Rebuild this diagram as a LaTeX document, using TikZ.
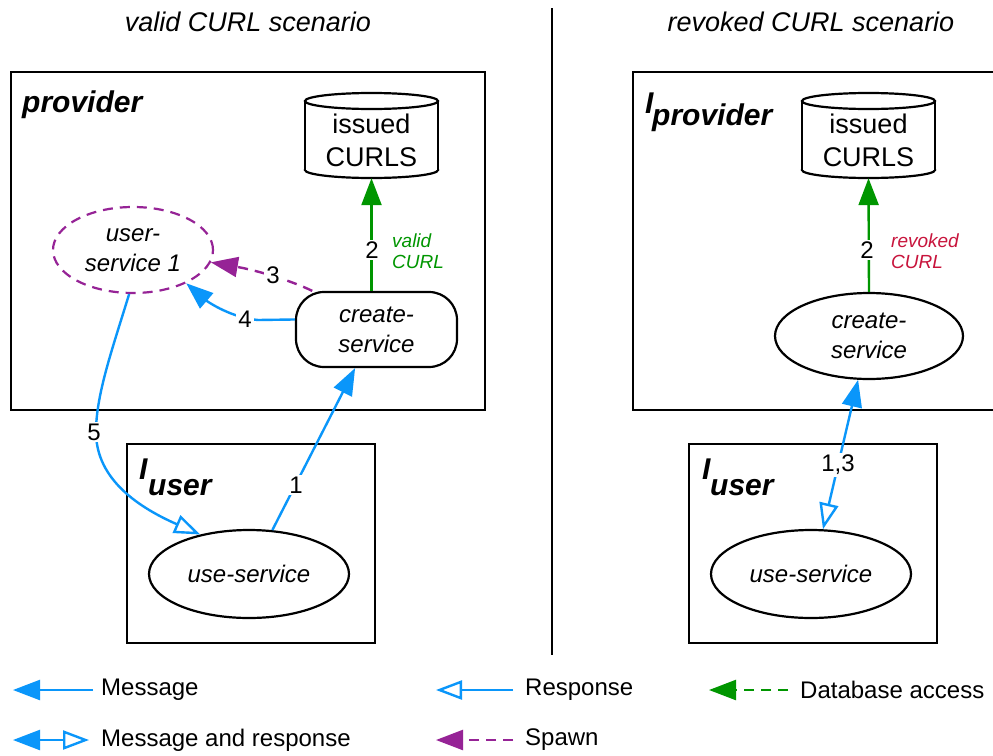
\documentclass[tikz,border=0pt]{standalone}
\usepackage{fontspec}
\setmainfont{Liberation Sans}
\usetikzlibrary{arrows.meta,shapes.geometric,calc}
\definecolor{cblue}{RGB}{10,150,250}
\definecolor{cgreen}{RGB}{0,150,0}
\definecolor{cpurple}{RGB}{150,35,150}
\definecolor{ccrimson}{RGB}{200,20,60}
\tikzset{
  boxnode/.style={draw, line width=2.6pt, inner sep=0pt},
  titletext/.style={font=\fontsize{27}{32}\selectfont\itshape},
  grp/.style={font=\fontsize{30}{36}\selectfont\bfseries\itshape, inner sep=0pt},
  proc/.style={draw, line width=2.2pt, inner sep=0pt, align=center, font=\fontsize{24}{30}\selectfont\itshape},
  dbtext/.style={align=center, inner sep=0pt, font=\fontsize{27}{33}\selectfont},
  num/.style={fill=white, inner sep=2pt, font=\fontsize{24}{28}\selectfont},
  note/.style={align=left, inner sep=0pt, anchor=west, font=\fontsize{19}{21}\selectfont\itshape},
  leg/.style={anchor=west, inner sep=0pt, font=\fontsize{24}{28}\selectfont},
  fhead/.tip={Triangle[length=27pt,width=20pt]},
  ohead/.tip={Triangle[open,length=26pt,width=19pt]},
  msg/.style={draw=cblue, line width=2.4pt, -fhead},
  resp/.style={draw=cblue, line width=2.4pt, -ohead},
  both/.style={draw=cblue, line width=2.4pt, fhead-ohead},
  dbacc/.style={draw=cgreen, line width=2.4pt, -fhead},
  dbdash/.style={dbacc, dash pattern=on 10pt off 7pt},
  spawn/.style={draw=cpurple, line width=2.4pt, dash pattern=on 10pt off 7pt, -fhead},
}
\begin{document}
\begin{tikzpicture}[x=1pt,y=-1pt]
\useasboundingbox[fill=white] (0,0) rectangle (993,755);

% titles and divider
\node[titletext] (t1) at (248,22) {valid CURL scenario};
\node[titletext] (t2) at (811,22) {revoked CURL scenario};
\draw[line width=1.6pt] (552,8) -- (552,655);

% ---------------- left scenario ----------------
\node[boxnode, minimum width=474pt, minimum height=338pt] (prov1) at (248,241) {};
\node[grp, anchor=base west] (provl1) at (22,112) {provider};

% cylinder 1
\draw[line width=2.2pt, fill=white] (371.5,170) ellipse [x radius=66.5pt, y radius=8pt];
\fill[white] (305,101) rectangle (438,170);
\draw[line width=2.2pt] (305,101) -- (305,170) (438,101) -- (438,170);
\draw[line width=2.2pt, fill=white] (371.5,101) ellipse [x radius=66.5pt, y radius=8pt];
\node[minimum width=133pt, minimum height=85pt, inner sep=0pt] (db1) at (371.5,135.5) {};
\node[dbtext] (db1t) at (371.5,140) {issued\\CURLS};

\node[proc, ellipse, dashed, draw=cpurple, dash pattern=on 10pt off 7pt, minimum width=160pt, minimum height=86pt] (us1) at (133,250) {user-\\service 1};
\node[proc, rounded corners=28pt, minimum width=161pt, minimum height=75pt] (cs1) at (376.5,329.5) {create-\\service};

\node[boxnode, minimum width=248pt, minimum height=199pt] (ubox1) at (251,543.5) {};
\node[grp, anchor=base west] (iu1) at (139,479) {I};
\node[grp, anchor=base west] (uu1) at (148,495) {user};
\node[proc, ellipse, minimum width=200pt, minimum height=88pt] (use1) at (249,574) {use-service};

% connectors left
\draw[dbacc] (cs1.north -| db1.south) -- (db1.south);
\draw[spawn] (cs1.149) .. controls (290,280) and (255,270) .. (us1.-9);
\draw[msg] (cs1.173) -- (258,320) .. controls (232,318) and (208,302) .. (us1.-32);
\draw[msg] (use1.62) -- (cs1.-119);
\draw[resp] (us1.-95) .. controls (112,350) and (96,395) .. (96,432) .. controls (96,480) and (140,508) .. (use1.141);

\node[num] (n2a) at (372,250) {2};
\node[note, text=cgreen] (v1) at (392,251) {valid\\CURL};
\node[num] (n3) at (273,275) {3};
\node[num] (n4) at (245,319) {4};
\node[num] (n1) at (296,485) {1};
\node[num] (n5) at (94,432) {5};

% ---------------- right scenario ----------------
\draw[line width=2.6pt] (998,72) -- (633,72) -- (633,410) -- (998,410);
\node[grp, anchor=base west] (ip2) at (645,113) {I};
\node[grp, anchor=base west] (pp2) at (652,125) {provider};

% cylinder 2
\draw[line width=2.2pt, fill=white] (868.5,170) ellipse [x radius=66.5pt, y radius=8pt];
\fill[white] (802,101) rectangle (935,170);
\draw[line width=2.2pt] (802,101) -- (802,170) (935,101) -- (935,170);
\draw[line width=2.2pt, fill=white] (868.5,101) ellipse [x radius=66.5pt, y radius=8pt];
\node[minimum width=133pt, minimum height=85pt, inner sep=0pt] (db2) at (868.5,135.5) {};
\node[dbtext] (db2t) at (868.5,140) {issued\\CURLS};

\node[proc, ellipse, minimum width=188pt, minimum height=86pt] (cs2) at (869,336) {create-\\service};

\node[boxnode, minimum width=248pt, minimum height=199pt] (ubox2) at (813,543.5) {};
\node[grp, anchor=base west] (iu2) at (702,479) {I};
\node[grp, anchor=base west] (uu2) at (710,495) {user};
\node[proc, ellipse, minimum width=200pt, minimum height=88pt] (use2) at (811,574) {use-service};

\draw[dbacc] (cs2.north) -- (db2.south);
\draw[both] (cs2.-104) -- (use2.75);
\node[num] (n2b) at (867,250) {2};
\node[note, text=ccrimson] (r2) at (891,251) {revoked\\CURL};
\node[num] (n13) at (838,465) {1,3};

% ---------------- legend ----------------
\node[leg] (lmsg) at (101,690) {Message};
\coordinate (lmsgt) at (13,690);
\draw[msg] ([xshift=-8pt]lmsg.west) -- (lmsgt);

\node[leg] (lmr) at (101,740) {Message and response};
\coordinate (lmrt) at (13,740);
\draw[both] (lmrt) -- ([xshift=-12pt]lmr.west);

\node[leg] (lresp) at (525,690) {Response};
\coordinate (lrespt) at (436,690);
\draw[resp] ([xshift=-12pt]lresp.west) -- (lrespt);

\node[leg] (lspawn) at (525,740) {Spawn};
\coordinate (lspawnt) at (436,740);
\draw[spawn] ([xshift=-12pt]lspawn.west) -- (lspawnt);

\node[leg] (ldb) at (800,690) {Database access};
\coordinate (ldbt) at (709,690);
\draw[dbdash] ([xshift=-12pt]ldb.west) -- (ldbt);
\end{tikzpicture}
\end{document}
